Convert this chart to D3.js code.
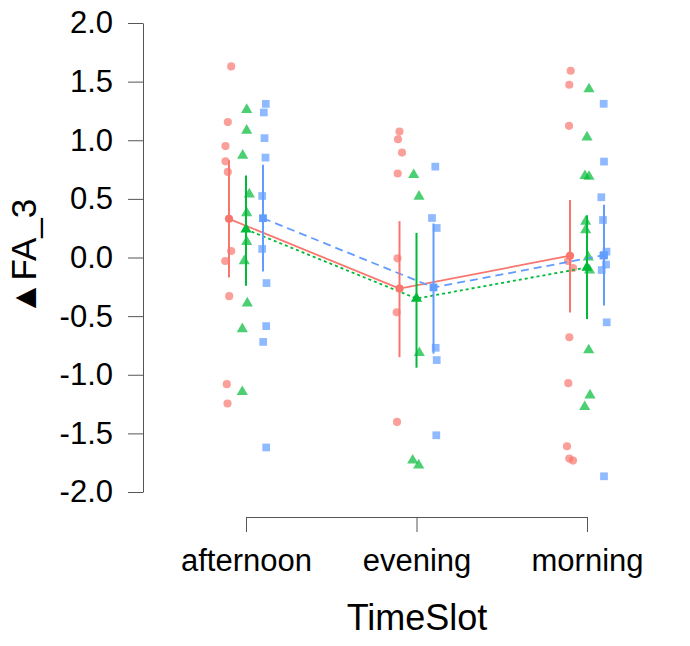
<!DOCTYPE html>
<html>
<head>
<meta charset="utf-8">
<script src="https://cdn.jsdelivr.net/npm/d3@7"></script>
<style>
  body { margin: 0; background: #fff; }
  text { font-family: "Liberation Sans", Arial, sans-serif; }
</style>
</head>
<body>
<div id="chart"></div>
<script>
// categories
var timeSlots = ["afternoon", "evening", "morning"];
var groups = ["A", "B", "C"];
var yTicks = [2.0, 1.5, 1.0, 0.5, 0.0, -0.5, -1.0, -1.5, -2.0];

// means and error bars (per time slot)
var meanA = [0.33, -0.265, 0.015];
var lowA  = [-0.17, -0.85, -0.47];
var highA = [0.83, 0.31, 0.49];

var meanB = [0.24, -0.35, -0.085];
var lowB  = [-0.24, -0.94, -0.525];
var highB = [0.70, 0.21, 0.36];

var meanC = [0.335, -0.255, 0.02];
var lowC  = [-0.12, -0.82, -0.41];
var highC = [0.79, 0.29, 0.45];

// raw points, one list per time slot, and their jitter (-1..1)
var pointsA = [
  [1.63, 1.155, 0.95, 0.82, 0.73, 0.055, -0.03, -0.33, -1.08, -1.245],
  [1.074, 1.009, 0.895, 0.716, -0.007, -0.468, -1.402],
  [1.593, 1.473, 1.123, -0.03, -0.09, -0.68, -1.072, -1.61, -1.715, -1.732]
];
var jitterA = [
  [0.44, -0.24, -0.7, -0.7, -0.24, 0.44, -0.76, 0.04, -0.44, -0.3],
  [0, -0.3, 0.5, -0.36, -0.4, -0.56, -0.5],
  [0.14, -0.14, -0.2, -0.4, 0.6, -0.14, -0.34, -0.6, -0.14, 0.6]
];

var pointsB = [
  [1.26, 1.083, 0.87, 0.54, 0.38, 0.135, -0.03, -0.39, -0.61, -1.146],
  [0.705, 0.52, -0.813, -1.73, -1.772],
  [1.436, 1.026, 0.696, 0.69, 0.306, 0.235, 0.002, -0.11, -0.79, -1.174, -1.274]
];
var jitterB = [
  [0.14, 0.14, -0.66, 0.66, 0.14, 0.14, -0.34, 0.26, -0.74, -0.74],
  [-0.56, 0.5, 0.56, -0.76, 0.44],
  [0.4, 0, -0.4, 0.4, -0.26, -0.26, 0.26, 0.5, 0.34, 0.6, -0.46]
];

var pointsC = [
  [1.31, 1.237, 1.018, 0.852, 0.525, 0.073, -0.218, -0.585, -0.72, -1.62],
  [0.775, 0.337, 0.252, -0.77, -0.875, -1.516],
  [1.311, 0.818, 0.514, 0.32, 0.05, 0.015, -0.06, -0.107, -0.553, -1.866]
];
var jitterC = [
  [0.56, 0.16, 0.3, 0.5, -0.16, -0.16, 0.7, 0.64, 0.04, 0.64],
  [0.36, -0.3, 0.64, 0.44, 0.64, 0.56],
  [-0.06, 0, -0.54, -0.2, 0.5, -0.14, 0.4, -0.46, 0.54, 0]
];

var series = [
  {key: "A", color: "#F8766D", shape: d3.symbolCircle, size: 52, dash: null,
   mean: meanA, low: lowA, high: highA, pts: pointsA, jit: jitterA},
  {key: "B", color: "#00BA38", shape: d3.symbolTriangle, size: 54, dash: "3,3",
   mean: meanB, low: lowB, high: highB, pts: pointsB, jit: jitterB},
  {key: "C", color: "#619CFF", shape: d3.symbolSquare, size: 60, dash: "8,5",
   mean: meanC, low: lowC, high: highC, pts: pointsC, jit: jitterC}
];

var width = 690, height = 646;

var svg = d3.select("#chart")
  .append("svg")
    .attr("width", width)
    .attr("height", height);

var x = d3.scalePoint()
  .domain(timeSlots)
  .range([246, 587]);

var dodge = d3.scalePoint()
  .domain(groups)
  .range([-17, 17]);

var jit = d3.scaleLinear()
  .domain([-1, 1])
  .range([-5, 5]);

var y = d3.scaleLinear()
  .domain([-2, 2])
  .range([492, 23]);

// axes (plain hyphen for negatives, like the original)
var yAxis = svg.append("g")
  .attr("transform", "translate(143,0)")
  .call(d3.axisLeft(y).tickValues(yTicks)
    .tickFormat(function(d) { return d.toFixed(1); })
    .tickSize(15).tickSizeOuter(0).tickPadding(15));

var xAxis = svg.append("g")
  .attr("transform", "translate(0,517)")
  .call(d3.axisBottom(x).tickSize(15).tickSizeOuter(0).tickPadding(17));

[xAxis, yAxis].forEach(function(ax) {
  ax.select(".domain").attr("stroke", "#555");
  ax.selectAll(".tick line").attr("stroke", "#555");
  ax.selectAll(".tick text")
    .attr("fill", "#000")
    .style("font-size", "31px")
    .style("font-family", "'Liberation Sans', Arial, sans-serif");
});

// axis titles
svg.append("text")
  .attr("x", 417)
  .attr("y", 630)
  .attr("text-anchor", "middle")
  .style("font-size", "36px")
  .text("TimeSlot");

svg.append("text")
  .attr("transform", "translate(36,257) rotate(-90)")
  .attr("text-anchor", "middle")
  .style("font-size", "35px")
  .text("▲FA_3");

var plot = svg.append("g");

// raw jittered points
series.forEach(function(s) {
  var pts = [];
  s.pts.forEach(function(list, i) {
    list.forEach(function(v, j) {
      pts.push({slot: timeSlots[i], value: v, jit: s.jit[i][j]});
    });
  });
  plot.append("g").selectAll("path")
    .data(pts)
    .enter()
    .append("path")
      .attr("d", d3.symbol().type(s.shape).size(s.size))
      .attr("transform", function(d) {
        return "translate(" + (x(d.slot) + dodge(s.key) + jit(d.jit)) + "," + y(d.value) + ")";
      })
      .attr("fill", s.color)
      .attr("fill-opacity", 0.7);
});

// lines connecting means
series.forEach(function(s) {
  var line = d3.line()
    .x(function(d, i) { return x(timeSlots[i]) + dodge(s.key); })
    .y(function(d) { return y(d); });
  plot.append("path")
    .datum(s.mean)
    .attr("d", line)
    .attr("fill", "none")
    .attr("stroke", s.color)
    .attr("stroke-width", 1.8)
    .attr("stroke-dasharray", s.dash);
});

// error bars and mean markers
series.forEach(function(s) {
  var g = plot.append("g");
  g.selectAll("line")
    .data(timeSlots)
    .enter()
    .append("line")
      .attr("x1", function(d) { return x(d) + dodge(s.key); })
      .attr("x2", function(d) { return x(d) + dodge(s.key); })
      .attr("y1", function(d, i) { return y(s.low[i]); })
      .attr("y2", function(d, i) { return y(s.high[i]); })
      .attr("stroke", s.color)
      .attr("stroke-width", 2);
  g.selectAll("path")
    .data(timeSlots)
    .enter()
    .append("path")
      .attr("d", d3.symbol().type(s.shape).size(s.size))
      .attr("transform", function(d, i) {
        return "translate(" + (x(d) + dodge(s.key)) + "," + y(s.mean[i]) + ")";
      })
      .attr("fill", s.color);
});
</script>
</body>
</html>
